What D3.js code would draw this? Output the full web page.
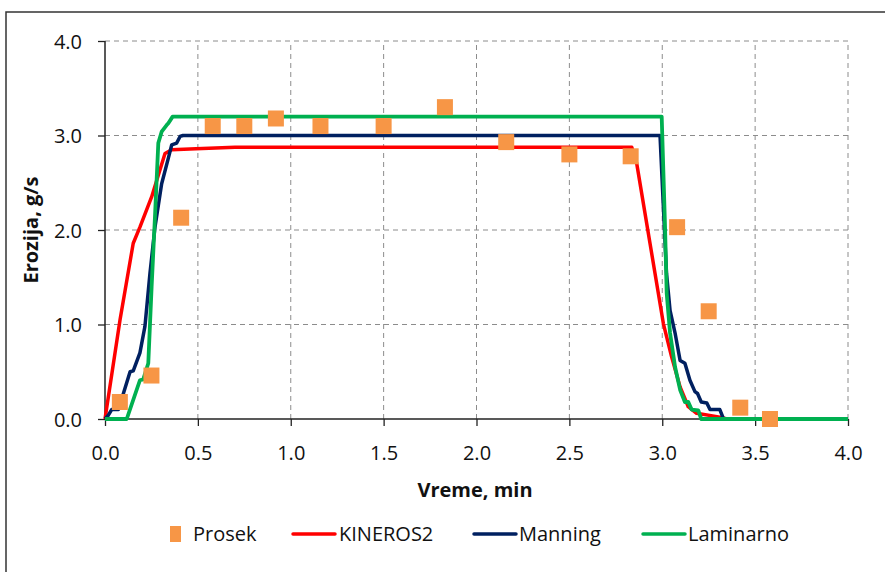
<!DOCTYPE html>
<html><head><meta charset="utf-8">
<script src="https://cdn.jsdelivr.net/npm/d3@7"></script>
<style>
html,body{margin:0;padding:0;background:#fff;}
svg{display:block;font-family:"Open Sans",Lato,sans-serif;}
</style></head>
<body>
<svg id="chart" width="885" height="572"></svg>
<script>
// ---- data ----
const xTicks = [0, 0.5, 1.0, 1.5, 2.0, 2.5, 3.0, 3.5, 4.0];
const yTicks = [0, 1.0, 2.0, 3.0, 4.0];

const prosekT = [0.08, 0.25, 0.41, 0.58, 0.75, 0.92, 1.16, 1.50, 1.83, 2.16, 2.50, 2.83, 3.08, 3.25, 3.42, 3.58];
const prosekV = [0.18, 0.46, 2.13, 3.10, 3.10, 3.18, 3.10, 3.10, 3.30, 2.93, 2.80, 2.78, 2.03, 1.14, 0.12, 0.0];

const kinerosT = [0, 0.081, 0.152, 0.188, 0.251, 0.323, 0.359, 0.49, 0.70, 1.5, 2.836, 2.862, 2.934, 3.006, 3.05, 3.096, 3.14, 3.185, 3.31, 3.35, 4.0];
const kinerosV = [0, 1.05, 1.86, 2.03, 2.35, 2.81, 2.85, 2.86, 2.875, 2.875, 2.875, 2.71, 1.86, 1.01, 0.66, 0.34, 0.13, 0.06, 0.02, 0, 0];

const manningT = [0, 0.018, 0.036, 0.072, 0.099, 0.135, 0.152, 0.188, 0.215, 0.242, 0.269, 0.305, 0.341, 0.359, 0.386, 0.404, 0.42, 2.988, 3.023, 3.042, 3.069, 3.096, 3.122, 3.149, 3.176, 3.19, 3.21, 3.24, 3.257, 3.31, 3.33, 4.0];
const manningV = [0, 0.04, 0.10, 0.10, 0.27, 0.50, 0.51, 0.70, 0.98, 1.54, 2.03, 2.49, 2.76, 2.90, 2.92, 2.99, 3.0, 3.0, 1.54, 1.15, 0.91, 0.62, 0.59, 0.41, 0.29, 0.27, 0.18, 0.17, 0.10, 0.10, 0.0, 0.0];

const laminarT = [0, 0.117, 0.188, 0.206, 0.233, 0.251, 0.269, 0.287, 0.305, 0.332, 0.341, 0.364, 2.997, 3.015, 3.024, 3.042, 3.069, 3.096, 3.122, 3.14, 3.158, 3.194, 3.21, 4.0];
const laminarV = [0, 0, 0.41, 0.42, 0.59, 1.40, 2.14, 2.92, 3.04, 3.11, 3.13, 3.2, 3.2, 2.03, 1.33, 0.91, 0.55, 0.31, 0.18, 0.18, 0.10, 0.09, 0.0, 0.0];

const seriesNames = ["Prosek", "KINEROS2", "Manning", "Laminarno"];
const colors = {Prosek: "#F79646", KINEROS2: "#FF0000", Manning: "#002060", Laminarno: "#00B050"};

// ---- drawing ----
const svg = d3.select("#chart");
const x = d3.scaleLinear().domain([0, 4]).range([105, 848]);
const y = d3.scaleLinear().domain([0, 4]).range([419, 41]);

// outer border
svg.append("rect").attr("x", 6).attr("y", 12).attr("width", 900).attr("height", 600)
  .attr("fill", "none").attr("stroke", "#333").attr("stroke-width", 1.5);

// gridlines
svg.append("g").selectAll("line").data(yTicks.filter(d => d > 0)).join("line")
  .attr("x1", x(0)).attr("x2", x(4)).attr("y1", d => y(d)).attr("y2", d => y(d))
  .attr("stroke", "#8c8c8c").attr("stroke-width", 1).attr("stroke-dasharray", "5,4");
svg.append("g").selectAll("line").data(xTicks.filter(d => d > 0)).join("line")
  .attr("x1", d => x(d)).attr("x2", d => x(d)).attr("y1", y(0)).attr("y2", y(4))
  .attr("stroke", "#8c8c8c").attr("stroke-width", 1).attr("stroke-dasharray", "5,4");

// axes
const fmt = d3.format(".1f");
const yAxis = svg.append("g").attr("transform", `translate(${x(0)},0)`)
  .call(d3.axisLeft(y).tickValues(yTicks).tickFormat(fmt).tickSize(7));
const xAxis = svg.append("g").attr("transform", `translate(0,${y(0)})`)
  .call(d3.axisBottom(x).tickValues(xTicks).tickFormat(fmt).tickSize(7));
[xAxis, yAxis].forEach(a => {
  a.select(".domain").attr("stroke", "#222").attr("stroke-width", 1.5);
  a.selectAll(".tick line").attr("stroke", "#222").attr("stroke-width", 1.3);
  a.selectAll("text").attr("font-size", 20).attr("fill", "#111").attr("font-family", "'Open Sans',Lato,sans-serif");
});
yAxis.selectAll(".tick text").attr("x", -23).attr("dy", "0.35em");
xAxis.selectAll(".tick text").attr("y", 41).attr("dy", 0);
yAxis.select(".domain").attr("d", `M0,${y(0)}V${y(4)}`);
xAxis.select(".domain").attr("d", `M${x(0)},0H${x(4)}`);

// axis titles
svg.append("text").attr("x", 475).attr("y", 497).attr("text-anchor", "middle")
  .attr("font-size", 20).attr("font-weight", "bold").attr("fill", "#111").text("Vreme, min");
svg.append("text").attr("transform", "translate(38,230) rotate(-90)").attr("text-anchor", "middle")
  .attr("font-size", 20).attr("font-weight", "bold").attr("fill", "#111").text("Erozija, g/s");

// lines
const line = d3.line().x(d => x(d[0])).y(d => y(d[1]));
const zip = (a, b) => a.map((v, i) => [v, b[i]]);
const lineSeries = [
  {name: "KINEROS2", data: zip(kinerosT, kinerosV), w: 3.5},
  {name: "Manning", data: zip(manningT, manningV), w: 3.5},
  {name: "Laminarno", data: zip(laminarT, laminarV), w: 3.8}
];
svg.append("g").selectAll("path").data(lineSeries).join("path")
  .attr("d", d => line(d.data)).attr("fill", "none")
  .attr("stroke", d => colors[d.name]).attr("stroke-width", d => d.w)
  .attr("stroke-linejoin", "round");

// Prosek markers
const ms = 16;
svg.append("g").selectAll("rect").data(zip(prosekT, prosekV)).join("rect")
  .attr("x", d => x(d[0]) - ms / 2).attr("y", d => y(d[1]) - ms / 2)
  .attr("width", ms).attr("height", ms).attr("fill", colors.Prosek);

// legend
const ly = 534;
const leg = svg.append("g").attr("font-size", 20).attr("fill", "#111");
const legItems = [
  {name: "Prosek", mx: 170, tx: 193},
  {name: "KINEROS2", mx: 293, tx: 339},
  {name: "Manning", mx: 474, tx: 519},
  {name: "Laminarno", mx: 643, tx: 688}
];
legItems.forEach(it => {
  if (it.name === "Prosek") {
    leg.append("rect").attr("x", it.mx).attr("y", ly - 8).attr("width", 11).attr("height", 16).attr("fill", colors.Prosek);
  } else {
    leg.append("line").attr("x1", it.mx).attr("x2", it.mx + 42).attr("y1", ly).attr("y2", ly)
      .attr("stroke", colors[it.name]).attr("stroke-width", 3.5).attr("stroke-linecap", "round");
  }
  leg.append("text").attr("x", it.tx).attr("y", ly + 7).text(it.name);
});
</script>
</body></html>
